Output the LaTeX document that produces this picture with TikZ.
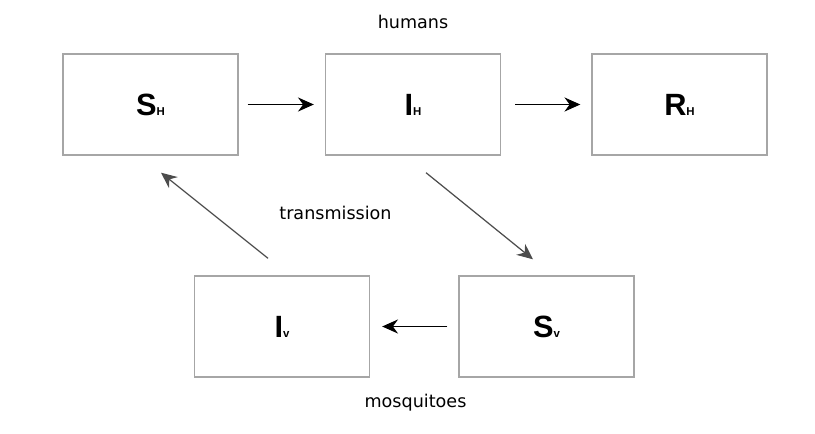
\documentclass[tikz,border=0pt]{standalone}
\usepackage{fontspec}
\setmainfont{DejaVu Sans}
\newfontfamily\boxfont{Liberation Sans}
\usetikzlibrary{arrows.meta}
\newcommand{\comp}[2]{{\boxfont\bfseries\fontsize{17.5}{20}\selectfont #1}{\boxfont\bfseries\fontsize{6.5}{7}\selectfont #2}}

\begin{document}
\begin{tikzpicture}[x=0.02cm, y=-0.02cm,
	box/.style={draw=gray!70, line width=0.8pt, minimum width=3.5cm, minimum height=2.02cm, inner sep=0pt},
	flow/.style={-{Stealth[length=9pt, width=8pt]}, line width=1pt},
	link/.style={-{Stealth[length=9pt, width=8pt]}, line width=0.7pt, black!70},
	note/.style={font=\fontsize{10}{12}\selectfont}]
			\useasboundingbox (0,0) rectangle (815,433);

			% Draw the compartments
			\node[box] (SH) at (150.5,104.5) {\comp{S}{H}};
			\node[box] (IH) at (413,104.5) {\comp{I}{H}};
			\node[box] (RH) at (679.5,104.5) {\comp{R}{H}};
			\node[box] (IV) at (282,326.5) {\comp{I}{v}};
			\node[box] (SV) at (546.5,326.5) {\comp{S}{v}};

			% Draw the labels
			\node[note] (humans) at (413,22) {humans};
			\node[note] (trans) at (335.5,213) {transmission};
			\node[note] (mosq) at (415.5,403) {mosquitoes};

			% Draw the flows between compartments
			\draw[flow, shorten <=0.18cm, shorten >=0.22cm] (SH.east) -- (IH.west);
			\draw[flow, shorten <=0.28cm, shorten >=0.22cm] (IH.east) -- (RH.west);
			\draw[flow, shorten <=0.22cm, shorten >=0.24cm] (SV.west) -- (IV.east);

			% Draw the transmission links
			\draw[link] ([xshift=0.26cm, yshift=-0.34cm]IH.south) -- ([xshift=-0.27cm, yshift=0.32cm]SV.north);
			\draw[link] ([xshift=-0.28cm, yshift=0.34cm]IV.north) -- ([xshift=0.21cm, yshift=-0.34cm]SH.south);

		\end{tikzpicture}
\end{document}
